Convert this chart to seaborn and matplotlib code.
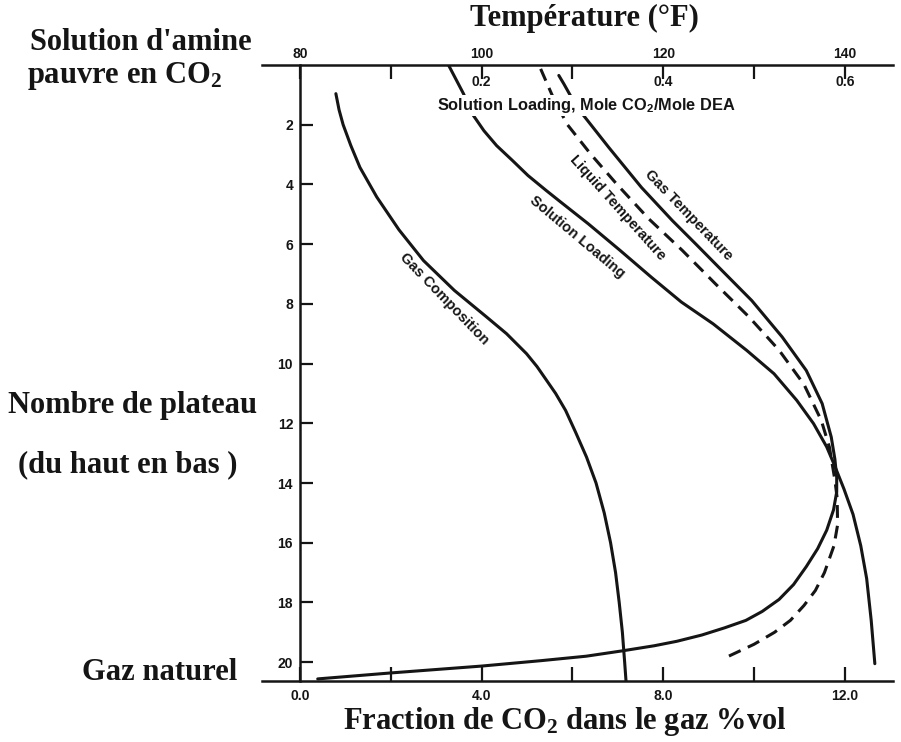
import matplotlib
matplotlib.use("Agg")
import matplotlib.pyplot as plt
import seaborn as sns

# ---- Column profiles (plate number counted from the top) ----
# Gas composition, % vol CO2
plate_gas_comp = [0.96, 1.5, 2.0, 2.7, 3.43, 4.42, 5.52, 6.55, 7.55, 8.44, 9.0, 9.67,
                  10.1, 10.56, 11.0, 11.57, 12.3, 13.13, 14.0, 15.0, 16.0, 17.0, 18.0,
                  19.0, 20.0, 20.63]
co2_gas_comp = [0.79, 0.86, 0.95, 1.12, 1.32, 1.69, 2.18, 2.72, 3.40, 4.11, 4.55, 4.99,
                5.22, 5.43, 5.63, 5.85, 6.07, 6.31, 6.52, 6.70, 6.84, 6.95, 7.03,
                7.10, 7.15, 7.18]

# Solution loading, mole CO2 / mole DEA
plate_loading = [0.0, 0.96, 1.65, 2.2, 2.7, 3.2, 3.7, 4.2, 4.6, 5.32, 6.21, 7.11, 7.94,
                 8.67, 9.56, 10.34, 11.23, 12.01, 12.79, 13.4, 14.2, 15.05, 16.1, 17.2,
                 18.6, 20.05]
loading = [0.1635, 0.180, 0.190, 0.2025, 0.2165, 0.234, 0.251, 0.271, 0.2875, 0.3175,
           0.3525, 0.387, 0.420, 0.455, 0.492, 0.522, 0.547, 0.5655, 0.580, 0.5885,
           0.599, 0.609, 0.6175, 0.624, 0.629, 0.633]

# Gas temperature, deg F
plate_gas_temp = [0.35, 0.63, 1.20, 1.70, 2.76, 4.10, 5.21, 6.0, 6.77, 7.89, 9.11,
                  10.23, 11.34, 12.46, 13.2, 13.8, 14.3, 14.9, 15.58, 16.2, 16.8, 17.4,
                  17.9, 18.3, 18.6, 18.85, 19.09, 19.3, 19.45, 19.62, 19.8, 19.95,
                  20.13, 20.36, 20.56]
gas_temp_F = [108.5, 109.05, 110.1, 111.25, 114.0, 117.6, 121.0, 123.6, 126.1, 129.75,
              133.1, 135.75, 137.5, 138.5, 138.9, 139.1, 139.1, 138.75, 138.0, 137.0,
              135.75, 134.35, 132.75, 130.9, 129.1, 126.75, 124.25, 121.5, 119.0,
              115.5, 111.5, 106.5, 100.0, 90.0, 81.95]

# Liquid temperature, deg F
plate_liq_temp = [0.13, 1.0, 1.98, 2.98, 3.98, 5.15, 6.21, 7.33, 8.44, 9.55, 10.7,
                  11.9, 12.8, 13.9, 14.5, 15.4, 16.1, 17.0, 17.6, 18.1, 18.6, 19.0,
                  19.4, 19.8]
liq_temp_F = [106.5, 107.75, 109.4, 112.0, 114.85, 118.4, 122.1, 125.75, 129.45,
              132.75, 135.5, 137.4, 138.3, 138.9, 139.15, 139.2, 138.8, 137.75, 136.75,
              135.5, 134.0, 132.25, 130.0, 127.2]

# Axis ticks
plate_ticks = list(range(2, 21, 2))
co2_major = [0, 4, 8, 12]
co2_major_labels = ["0.0", "4.0", "8.0", "12.0"]
co2_minor = [2, 6, 10]
temp_major = [80, 100, 120, 140]
temp_minor = [90, 110, 130]
loading_ticks = [0.2, 0.4, 0.6]
loading_labels = ["0.2", "0.4", "0.6"]

# ---- Style ----
sns.set_theme(style="white")
plt.rcParams["font.family"] = ["Liberation Sans", "DejaVu Sans"]
plt.rcParams["mathtext.default"] = "regular"
SERIF = ["Liberation Serif", "DejaVu Serif"]
INK = "#151515"
LW = 2.2

W, H = 901, 742
fig = plt.figure(figsize=(W / 100, H / 100), dpi=100)
ax = fig.add_axes([262 / W, 61 / H, 631 / W, 616 / H])

# three horizontal scales that share the same pixels: CO2 %, deg F, loading
co2_lim = (-0.837, 13.06)
temp_lim = (80 + 5 * co2_lim[0], 80 + 5 * co2_lim[1])
load_lim = (co2_lim[0] / 20, co2_lim[1] / 20)

ax.set_xlim(*co2_lim)
ax.set_ylim(20.63, 0.0)

ax_t = ax.twiny()
ax_t.set_xlim(*temp_lim)
ax_l = ax.twiny()
ax_l.set_xlim(*load_lim)

# ---- Curves ----
sns.lineplot(x=co2_gas_comp, y=plate_gas_comp, sort=False, estimator=None,
             color=INK, lw=LW, ax=ax)
sns.lineplot(x=loading, y=plate_loading, sort=False, estimator=None,
             color=INK, lw=LW, ax=ax_l)
sns.lineplot(x=gas_temp_F, y=plate_gas_temp, sort=False, estimator=None,
             color=INK, lw=LW, ax=ax_t)
liq = sns.lineplot(x=liq_temp_F, y=plate_liq_temp, sort=False, estimator=None,
                   color=INK, lw=LW, ax=ax_t)
liq.lines[-1].set_linestyle((0, (4.2, 2.6)))
for a in (ax, ax_t, ax_l):
    for ln in a.lines:
        ln.set_solid_joinstyle("round")
        ln.set_solid_capstyle("round")
        ln.set_dash_joinstyle("round")

for a in (ax, ax_t, ax_l):
    a.set_xlabel("")
    a.set_ylabel("")

# ---- Main axes: plate number (left) and CO2 fraction (bottom) ----
for side in ("top", "bottom", "left"):
    ax.spines[side].set_color(INK)
    ax.spines[side].set_linewidth(1.8)
ax.spines["right"].set_visible(False)
ax.spines["left"].set_position(("data", 0))

ax.set_yticks(plate_ticks)
ax.set_yticklabels([str(v) for v in plate_ticks])
ax.set_xticks(co2_major)
ax.set_xticklabels(co2_major_labels)
ax.set_xticks(co2_minor, minor=True)
ax.tick_params(axis="y", which="both", direction="in", length=9, width=1.6,
               color=INK, left=True, right=False, pad=5, labelsize=10)
ax.tick_params(axis="x", which="both", direction="in", length=10, width=1.6,
               color=INK, bottom=True, top=False, pad=6, labelsize=10)
for lab in ax.get_xticklabels() + ax.get_yticklabels():
    lab.set_fontweight("bold")
    lab.set_color(INK)

# ---- Temperature scale on top ----
for s in ax_t.spines.values():
    s.set_visible(False)
ax_t.set_xticks(temp_major)
ax_t.set_xticklabels([str(v) for v in temp_major])
ax_t.set_xticks(temp_minor, minor=True)
ax_t.tick_params(axis="x", which="both", direction="in", length=10, width=1.6,
                 color=INK, top=True, bottom=False, labeltop=True,
                 labelbottom=False, pad=3, labelsize=10)
for lab in ax_t.get_xticklabels():
    lab.set_fontweight("bold")
    lab.set_color(INK)

# ---- Solution loading scale, labels sitting under the top line ----
for s in ax_l.spines.values():
    s.set_visible(False)
ax_l.set_xticks(loading_ticks)
ax_l.set_xticklabels(loading_labels)
ax_l.tick_params(axis="x", which="both", length=0, top=True, bottom=False,
                 labeltop=True, labelbottom=False, pad=-17, labelsize=10)
for lab in ax_l.get_xticklabels():
    lab.set_fontweight("bold")
    lab.set_color(INK)


def px(x, y):
    return x / W, 1 - y / H


# scale caption for the loading ticks (masks the curves behind it)
fig.text(*px(586, 105.5), r"Solution Loading, Mole CO$_2$/Mole DEA",
         ha="center", va="center", fontsize=11.8, fontweight="bold", color=INK,
         bbox=dict(facecolor="white", edgecolor="none", pad=1.0), zorder=5)

# curve names along each curve
curve_labels = [
    ("Gas Composition", 3.17, 7.82, -46),
    ("Solution Loading", 6.10, 5.75, -40),
    ("Liquid Temperature", 7.00, 4.78, -48),
    ("Gas Temperature", 8.55, 5.04, -46),
]
for text, cx, cy, rot in curve_labels:
    ax.text(cx, cy, text, rotation=rot, rotation_mode="anchor", ha="center",
            va="center", fontsize=10.5, fontweight="bold", color=INK)

# ---- Axis captions ----
big = dict(family=SERIF, fontweight="bold", fontsize=22, color=INK)
fig.text(*px(584, 18), "Température (°F)", ha="center", va="center", **big)
fig.text(*px(141, 43), "Solution d'amine", ha="center", va="center", **big)
fig.text(*px(125, 76), r"pauvre en CO$_2$", ha="center", va="center", **big)
fig.text(*px(133, 406), "Nombre de plateau", ha="center", va="center", **big)
fig.text(*px(128, 465), "(du haut en bas )", ha="center", va="center", **big)
fig.text(*px(160, 672), "Gaz naturel", ha="center", va="center", **big)
fig.text(*px(565, 722), r"Fraction de CO$_2$ dans le gaz %vol", ha="center",
         va="center", **big)

fig.savefig("out.png", dpi=100)
